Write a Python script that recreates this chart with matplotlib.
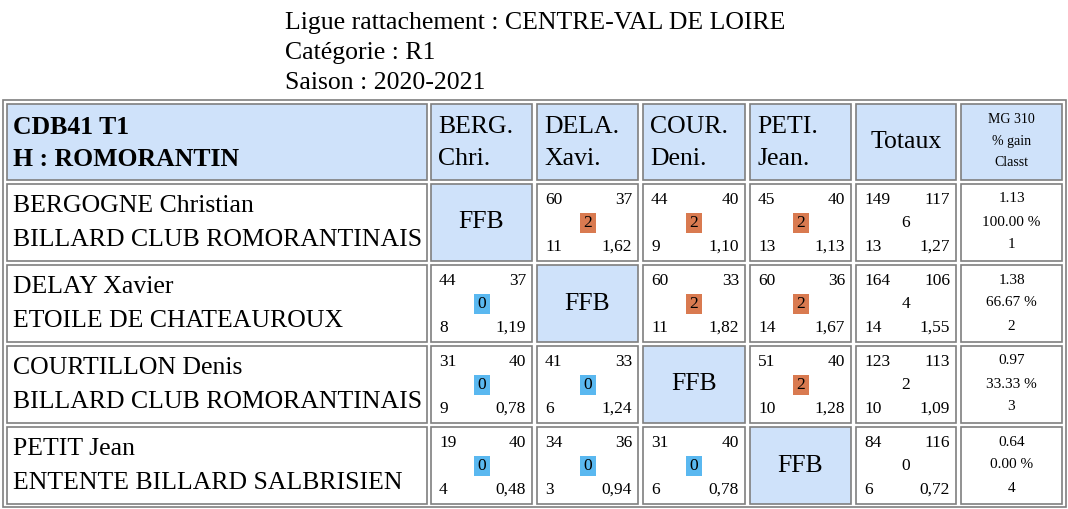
import matplotlib
matplotlib.use("Agg")
import matplotlib.pyplot as plt
from matplotlib.patches import Rectangle

titles = ["Ligue rattachement : CENTRE-VAL DE LOIRE", "Catégorie : R1", "Saison : 2020-2021"]
header_left = ["CDB41 T1", "H : ROMORANTIN"]
col_heads = [("BERG.", "Chri."), ("DELA.", "Xavi."), ("COUR.", "Deni."), ("PETI.", "Jean.")]
stat_head = ["MG 310", "% gain", "Classt"]
players = ["BERGOGNE Christian", "DELAY Xavier", "COURTILLON Denis", "PETIT Jean"]
clubs = ["BILLARD CLUB ROMORANTINAIS", "ETOILE DE CHATEAUROUX",
         "BILLARD CLUB ROMORANTINAIS", "ENTENTE BILLARD SALBRISIEN"]
matches = [
    [None, (60, 37, 2, 11, "1,62"), (44, 40, 2, 9, "1,10"), (45, 40, 2, 13, "1,13")],
    [(44, 37, 0, 8, "1,19"), None, (60, 33, 2, 11, "1,82"), (60, 36, 2, 14, "1,67")],
    [(31, 40, 0, 9, "0,78"), (41, 33, 0, 6, "1,24"), None, (51, 40, 2, 10, "1,28")],
    [(19, 40, 0, 4, "0,48"), (34, 36, 0, 3, "0,94"), (31, 40, 0, 6, "0,78"), None],
]
totals = [(149, 117, 6, 13, "1,27"), (164, 106, 4, 14, "1,55"),
          (123, 113, 2, 10, "1,09"), (84, 116, 0, 6, "0,72")]
stats = [("1.13", "100.00 %", "1"), ("1.38", "66.67 %", "2"),
         ("0.97", "33.33 %", "3"), ("0.64", "0.00 %", "4")]

W, H = 1068, 509
fig = plt.figure(figsize=(W/100, H/100), dpi=100)
ax = fig.add_axes([0, 0, 1, 1])
ax.set_xlim(0, W); ax.set_ylim(H, 0); ax.axis("off")
F = "Liberation Serif"
BIG = 18.5
SM = 12.5
BLUE_BG = "#cfe2fa"
ORANGE = "#d97a50"
SQBLUE = "#5ab8f0"
EDGE = "#7f7f7f"

for i, t in enumerate(titles):
    ax.text(285, 23 + 30*i, t, fontsize=BIG, family=F, va="center", ha="left")

ax.add_patch(Rectangle((3, 100), 1063, 407, fill=False, ec=EDGE, lw=1.2))
cols = [(7, 427), (431, 532), (537, 638), (643, 745), (750, 851), (856, 956), (961, 1062)]
rows = [(104, 180), (184, 261), (265, 342), (346, 423), (427, 504)]

def cell(c, r, bg="white"):
    x0, x1 = cols[c]; y0, y1 = rows[r]
    ax.add_patch(Rectangle((x0, y0), x1-x0, y1-y0, fc=bg, ec=EDGE, lw=1.2))
    return x0, x1, y0, y1

x0, x1, y0, y1 = cell(0, 0, BLUE_BG)
ax.text(x0+6, y0+23, header_left[0], fontsize=BIG, family=F, weight="bold", va="center")
ax.text(x0+6, y0+55, header_left[1], fontsize=BIG, family=F, weight="bold", va="center")
for j, (a, b) in enumerate(col_heads):
    x0, x1, y0, y1 = cell(j+1, 0, BLUE_BG)
    ax.text(x0+7, y0+23, a, fontsize=BIG, family=F, va="center")
    ax.text(x0+7, y0+55, b, fontsize=BIG, family=F, va="center")
x0, x1, y0, y1 = cell(5, 0, BLUE_BG)
ax.text((x0+x1)/2, (y0+y1)/2, "Totaux", fontsize=BIG, family=F, ha="center", va="center")
x0, x1, y0, y1 = cell(6, 0, BLUE_BG)
for k, s in enumerate(stat_head):
    ax.text((x0+x1)/2, y0+15+22*k, s, fontsize=10, family=F, ha="center", va="center")

def small(x0, x1, y0, y1, m, box):
    a, b, c, d, e = m
    ax.text(x0+8, y0+16, str(a), fontsize=SM, family=F, va="center")
    ax.text(x1-6, y0+16, str(b), fontsize=SM, family=F, va="center", ha="right")
    ax.text(x0+8, y1-14, str(d), fontsize=SM, family=F, va="center")
    ax.text(x1-6, y1-14, e, fontsize=SM, family=F, va="center", ha="right")
    cx, cy = (x0+x1)/2, y0+39
    if box:
        ax.add_patch(Rectangle((cx-8, cy-10), 16, 20, fc=ORANGE if c == 2 else SQBLUE, ec="none"))
    ax.text(cx, cy, str(c), fontsize=SM, family=F, ha="center", va="center")

for i in range(4):
    r = i + 1
    x0, x1, y0, y1 = cell(0, r)
    ax.text(x0+6, y0+22, players[i], fontsize=BIG, family=F, va="center")
    ax.text(x0+6, y0+56, clubs[i], fontsize=BIG, family=F, va="center")
    for j in range(4):
        m = matches[i][j]
        if m is None:
            x0, x1, y0, y1 = cell(j+1, r, BLUE_BG)
            ax.text((x0+x1)/2, (y0+y1)/2, "FFB", fontsize=BIG, family=F, ha="center", va="center")
        else:
            x0, x1, y0, y1 = cell(j+1, r)
            small(x0, x1, y0, y1, m, True)
    x0, x1, y0, y1 = cell(5, r)
    small(x0, x1, y0, y1, totals[i], False)
    x0, x1, y0, y1 = cell(6, r)
    for k, s in enumerate(stats[i]):
        ax.text((x0+x1)/2, y0+15+23*k, s, fontsize=11, family=F, ha="center", va="center")

fig.savefig("out.png", dpi=100)
